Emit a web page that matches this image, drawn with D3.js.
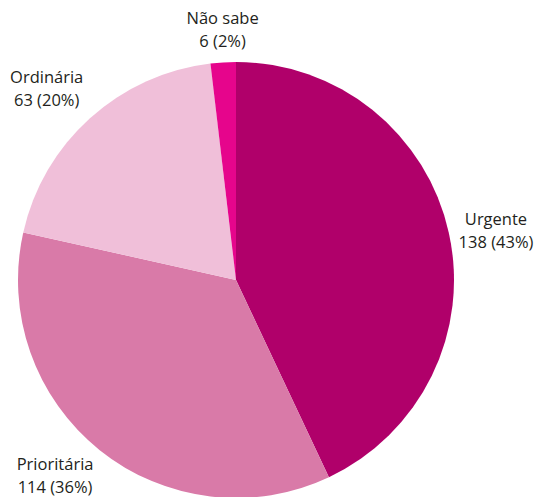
<!DOCTYPE html>
<html>
<head>
<meta charset="utf-8">
<script src="https://cdn.jsdelivr.net/npm/d3@7"></script>
<style>
html,body{margin:0;padding:0;background:#fff;}
svg{display:block;}
</style>
</head>
<body>
<svg id="chart" width="538" height="497"></svg>
<script>
const categories = ["Urgente", "Prioritária", "Ordinária", "Não sabe"];
const values = [138, 114, 63, 6];
const percents = ["43%", "36%", "20%", "2%"];
const colors = ["#b0006a", "#d97aa8", "#f0bfd9", "#e6058c"];

const W = 538, H = 497;
const cx = 236, cy = 280, r = 218;
const svg = d3.select("#chart");
const g = svg.append("g").attr("transform", `translate(${cx},${cy})`);

const data = categories.map((c, i) => ({ name: c, value: values[i], pct: percents[i], color: colors[i] }));
const pie = d3.pie().value(d => d.value).sort(null);
const arcs = pie(data);
const arc = d3.arc().innerRadius(0).outerRadius(r);

g.selectAll("path.slice").data(arcs).join("path")
  .attr("class", "slice")
  .attr("d", arc)
  .attr("fill", d => d.data.color);

const pad = 10;
const fontSize = 16.5, lineH = 23;
arcs.forEach(d => {
  const a = (d.startAngle + d.endAngle) / 2;
  const s = Math.sin(a), c = Math.cos(a);
  const px = (r + pad) * s, py = -(r + pad) * c;
  const t = g.append("text")
    .attr("font-family", "'Open Sans', sans-serif")
    .attr("font-size", fontSize)
    .attr("fill", "#231f20")
    .attr("text-anchor", "middle");
  t.append("tspan").attr("x", 0).attr("y", 0).text(d.data.name);
  t.append("tspan").attr("x", 0).attr("y", lineH).text(`${d.data.value} (${d.data.pct})`);
  const bb = t.node().getBBox();
  let tx = px, ty;
  if (s > 0.3) tx = px + bb.width / 2;
  else if (s < -0.3) tx = px - bb.width / 2;
  if (c > 0.3) ty = py - (bb.y + bb.height);
  else if (c < -0.3) ty = Math.min(py - bb.y, H - cy - 4 - lineH);
  else ty = py - (bb.y + bb.height / 2);
  t.attr("transform", `translate(${tx},${ty})`);
});
</script>
</body>
</html>
